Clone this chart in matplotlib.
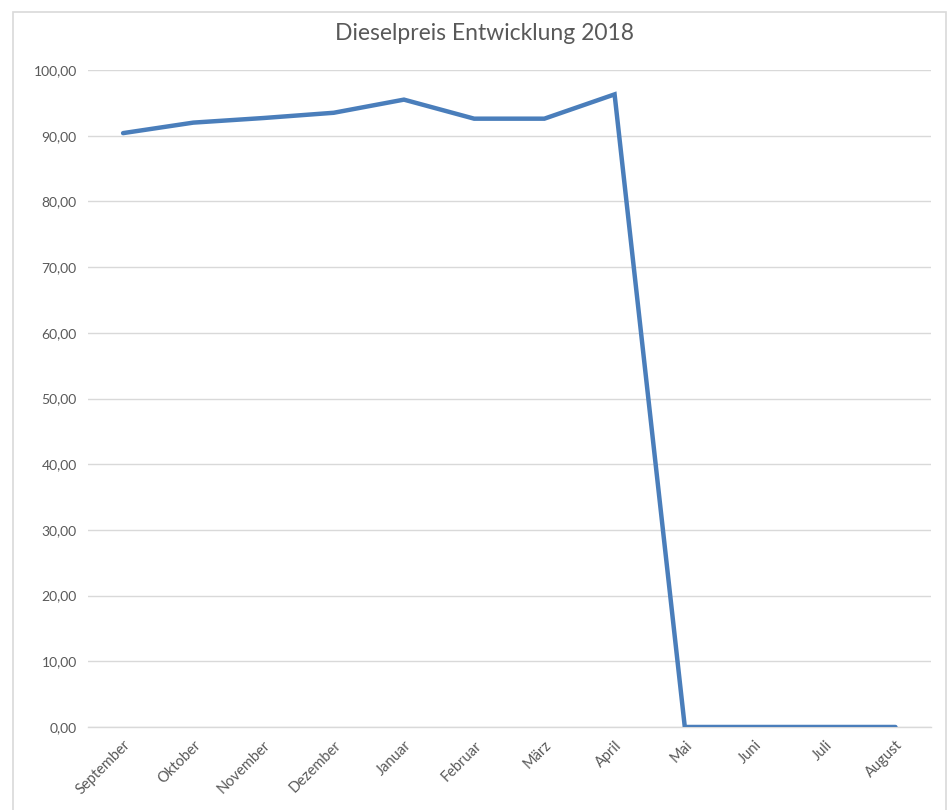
"""Dieselpreis Entwicklung 2018 - line chart."""

import matplotlib
matplotlib.use("Agg")
import matplotlib.pyplot as plt
from matplotlib.patches import Rectangle
from matplotlib.ticker import FuncFormatter, MultipleLocator

months = ["September", "Oktober", "November", "Dezember", "Januar", "Februar",
          "März", "April", "Mai", "Juni", "Juli", "August"]
prices = [90.4, 92.0, 92.7, 93.5, 95.5, 92.6, 92.6, 96.3, 0.0, 0.0, 0.0, 0.0]

title = "Dieselpreis Entwicklung 2018"

plt.rcParams["font.family"] = ["Lato", "DejaVu Sans"]
text_col = "#595959"
grid_col = "#d9d9d9"
line_col = "#4a7ebb"

fig = plt.figure(figsize=(9.51, 8.10), dpi=100)
ax = fig.add_axes([0.0925, 0.1025, 0.886, 0.811])

# outer chart border like the Excel chart area
fig.patches.append(Rectangle((13 / 951, -0.01), 933 / 951, 1 - 12 / 810 + 0.01,
                             transform=fig.transFigure, fill=False,
                             edgecolor=grid_col, linewidth=1.2))

x = list(range(len(months)))
ax.plot(x, prices, color=line_col, linewidth=3.2, solid_joinstyle="miter",
        solid_capstyle="round", zorder=3)

ax.set_xlim(-0.5, len(months) - 0.5)
ax.set_ylim(0, 100)
ax.yaxis.set_major_locator(MultipleLocator(10))
ax.yaxis.set_major_formatter(FuncFormatter(lambda v, _: f"{v:.2f}".replace(".", ",")))
ax.grid(axis="y", color=grid_col, linewidth=1.0, zorder=0)
ax.set_axisbelow(True)

for s in ["top", "right", "left"]:
    ax.spines[s].set_visible(False)
ax.spines["bottom"].set_color(grid_col)
ax.spines["bottom"].set_linewidth(1.0)

ax.set_xticks(x)
ax.set_xticklabels(months, rotation=45, ha="right", rotation_mode="anchor")
ax.tick_params(axis="both", length=0, colors=text_col, labelsize=10)
ax.tick_params(axis="x", labelsize=10.5, pad=8)
ax.tick_params(axis="y", pad=8)

fig.text(0.509, 1 - 33 / 810, title, ha="center", va="center",
         fontsize=16.5, color=text_col)

fig.savefig("out.png", dpi=100)
